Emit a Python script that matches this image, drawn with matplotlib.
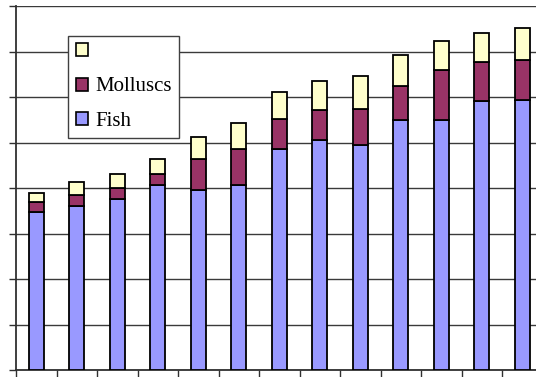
import matplotlib
matplotlib.use("Agg")
import matplotlib.pyplot as plt
from matplotlib.patches import Rectangle
import numpy as np

# Stacked catch components per period
fish = [3.47, 3.61, 3.75, 4.07, 3.96, 4.07, 4.85, 5.05, 4.95, 5.49, 5.49, 5.91, 5.93]
molluscs = [0.22, 0.24, 0.24, 0.24, 0.68, 0.78, 0.66, 0.67, 0.78, 0.76, 1.11, 0.87, 0.88]
other = [0.21, 0.29, 0.32, 0.33, 0.49, 0.57, 0.61, 0.64, 0.74, 0.68, 0.64, 0.63, 0.71]
series_labels = ["", "Molluscs", "Fish"]
y_max = 8

fish_c = "#9999FF"
moll_c = "#993366"
other_c = "#FFFFCC"

fig = plt.figure(figsize=(5.36, 3.77), dpi=100)
ax = fig.add_axes([16 / 536, 7 / 377, 526.5 / 536, 364 / 377])

x = np.arange(len(fish))
fish_a = np.array(fish)
moll_a = np.array(molluscs)
other_a = np.array(other)
w = 0.37
kw = dict(width=w, edgecolor="black", linewidth=1.3, zorder=3)
ax.bar(x, fish_a, color=fish_c, **kw)
ax.bar(x, moll_a, bottom=fish_a, color=moll_c, **kw)
ax.bar(x, other_a, bottom=fish_a + moll_a, color=other_c, **kw)

ax.set_xlim(-0.5, len(fish) - 0.5)
ax.set_ylim(0, y_max)
ax.set_yticks(np.arange(0, y_max + 1, 1))
ax.set_xticks(np.arange(len(fish) + 1) - 0.5)
ax.set_yticklabels([])
ax.set_xticklabels([])
ax.yaxis.grid(True, color="#3a3a3a", linewidth=1.0, zorder=0)
ax.set_axisbelow(True)
ax.tick_params(axis="both", direction="out", length=5, width=1.0, color="#303030")

for s in ("top", "right"):
    ax.spines[s].set_visible(False)
for s in ("left", "bottom"):
    ax.spines[s].set_color("#303030")
    ax.spines[s].set_linewidth(1.3)

handles = [Rectangle((0, 0), 1, 1, facecolor=c, edgecolor="black", linewidth=1.2)
           for c in (other_c, moll_c, fish_c)]
leg = fig.legend(handles, series_labels, loc="upper left",
                 bbox_to_anchor=(68 / 536, 1 - 35.7 / 377), bbox_transform=fig.transFigure,
                 prop={"family": "Liberation Serif", "size": 15},
                 handlelength=0.58, handleheight=0.58, handletextpad=0.35,
                 labelspacing=0.73, borderpad=0.36, borderaxespad=0,
                 fancybox=False, framealpha=1, edgecolor="#404040")
leg.get_frame().set_linewidth(1.0)

fig.savefig("out.png", dpi=100)
